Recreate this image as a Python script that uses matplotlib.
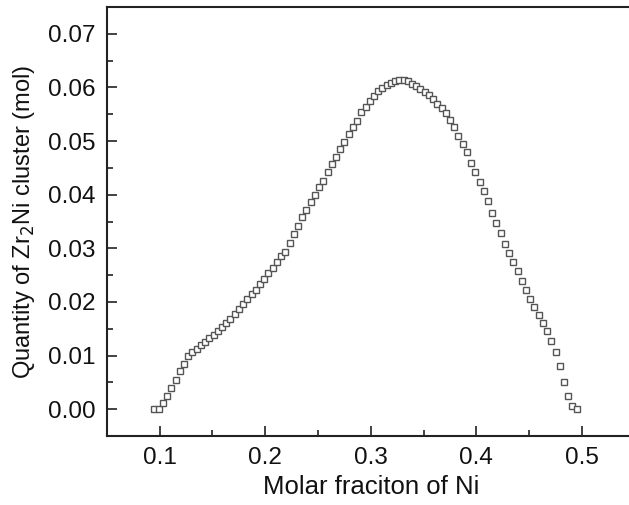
import matplotlib
matplotlib.use("Agg")
import matplotlib.pyplot as plt
from matplotlib.ticker import MultipleLocator

# ----------------------
# Data
# ----------------------
molar_fraction_ni = [
    0.095, 0.099, 0.103, 0.107, 0.111, 0.115, 0.119, 0.123, 0.127, 0.131,
    0.135, 0.139, 0.143, 0.147, 0.151, 0.155, 0.159, 0.163, 0.167, 0.171,
    0.175, 0.179, 0.183, 0.187, 0.191, 0.195, 0.199, 0.203, 0.207, 0.211,
    0.215, 0.219, 0.223, 0.227, 0.231, 0.235, 0.239, 0.243, 0.247, 0.251,
    0.255, 0.259, 0.263, 0.267, 0.271, 0.275, 0.279, 0.283, 0.287, 0.291,
    0.295, 0.299, 0.303, 0.307, 0.311, 0.315, 0.319, 0.323, 0.327, 0.331,
    0.335, 0.339, 0.343, 0.347, 0.351, 0.355, 0.359, 0.363, 0.367, 0.371,
    0.375, 0.379, 0.383, 0.387, 0.391, 0.395, 0.399, 0.403, 0.407, 0.411,
    0.415, 0.419, 0.423, 0.427, 0.431, 0.435, 0.439, 0.443, 0.447, 0.451,
    0.455, 0.459, 0.463, 0.467, 0.471, 0.475, 0.479, 0.483, 0.487, 0.491,
    0.495,
]
zr2ni_quantity = [
    0.0000, 0.0001, 0.0012, 0.0025, 0.0039, 0.0054, 0.0071, 0.0085, 0.0099, 0.0107,
    0.0113, 0.0119, 0.0125, 0.0132, 0.0138, 0.0145, 0.0153, 0.0161, 0.0169, 0.0178,
    0.0187, 0.0197, 0.0206, 0.0215, 0.0223, 0.0233, 0.0243, 0.0254, 0.0264, 0.0274,
    0.0285, 0.0294, 0.0310, 0.0326, 0.0342, 0.0358, 0.0371, 0.0386, 0.0399, 0.0414,
    0.0426, 0.0442, 0.0457, 0.0470, 0.0485, 0.0498, 0.0513, 0.0526, 0.0538, 0.0554,
    0.0564, 0.0575, 0.0585, 0.0593, 0.0599, 0.0605, 0.0609, 0.0612, 0.0613, 0.0613,
    0.0612, 0.0607, 0.0603, 0.0598, 0.0592, 0.0586, 0.0578, 0.0570, 0.0562, 0.0552,
    0.0540, 0.0526, 0.0510, 0.0495, 0.0479, 0.0460, 0.0442, 0.0424, 0.0407, 0.0388,
    0.0366, 0.0348, 0.0328, 0.0309, 0.0291, 0.0274, 0.0257, 0.0239, 0.0222, 0.0206,
    0.0191, 0.0176, 0.0161, 0.0146, 0.0127, 0.0106, 0.0081, 0.0050, 0.0024, 0.0006,
    0.0001,
]

x_ticks = [0.1, 0.2, 0.3, 0.4, 0.5]
y_ticks = [0.00, 0.01, 0.02, 0.03, 0.04, 0.05, 0.06, 0.07]

plt.rcParams['font.family'] = ['Liberation Sans', 'DejaVu Sans']

fig = plt.figure(figsize=(6.29, 5.05), dpi=100)
# right spine sits just outside the picture, as in the reference
ax = fig.add_axes([0.170, 0.1366, 0.839, 0.8495])

ax.plot(molar_fraction_ni, zr2ni_quantity, linestyle='none', marker='s',
        markersize=4.6, markerfacecolor='white', markeredgecolor='#555555',
        markeredgewidth=1.0)

ax.set_xlim(0.05, 0.55)
ax.set_ylim(-0.005, 0.075)
ax.set_xticks(x_ticks)
ax.set_xticklabels([f"{v:.1f}" for v in x_ticks])
ax.set_yticks(y_ticks)
ax.set_yticklabels([f"{v:.2f}" for v in y_ticks])
ax.xaxis.set_minor_locator(MultipleLocator(0.05))
ax.yaxis.set_minor_locator(MultipleLocator(0.005))

ax.tick_params(which='both', direction='in', top=False, right=False,
               width=1.2, color='#222222', labelsize=17.5, labelcolor='#111111')
ax.tick_params(which='major', length=7, pad=8)
ax.tick_params(which='minor', length=4)

for s in ax.spines.values():
    s.set_linewidth(1.5)
    s.set_color('#222222')

ax.set_xlabel("Molar fraciton of Ni", fontsize=18.5, color='#111111', labelpad=4)
ax.set_ylabel(r"Quantity of Zr$_2$Ni cluster (mol)", fontsize=17,
              color='#111111', labelpad=8)

fig.savefig("out.png", dpi=100)
